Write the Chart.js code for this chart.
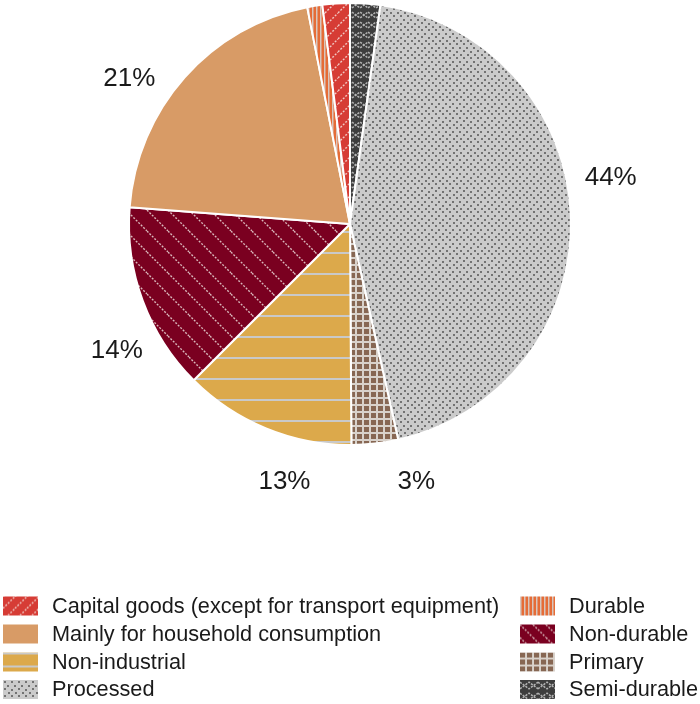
<!DOCTYPE html>
<html>
<head>
<meta charset="utf-8">
<style>
  html, body { margin: 0; padding: 0; background: #ffffff; }
  #wrap { position: relative; width: 700px; height: 704px; }
</style>
<script src="https://cdn.jsdelivr.net/npm/chart.js@4.4.1/dist/chart.umd.min.js"></script>
</head>
<body>
<div id="wrap"><canvas id="chart" width="700" height="704"></canvas></div>
<script>
// Categories in the order the slices run clockwise from twelve o'clock
const categories = [
  'Semi-durable',
  'Processed',
  'Primary',
  'Non-industrial',
  'Non-durable',
  'Mainly for household consumption',
  'Durable',
  'Capital goods (except for transport equipment)'
];
// Share of each category, in percent
const shares = [2.2, 44.3, 3.4, 12.6, 13.7, 20.7, 1.1, 2.0];
// Legend order (two columns, filled top to bottom)
const legendColumns = [
  ['Capital goods (except for transport equipment)', 'Mainly for household consumption', 'Non-industrial', 'Processed'],
  ['Durable', 'Non-durable', 'Primary', 'Semi-durable']
];

// Fill pattern for each category, drawn on a small tile at a given scale
function makeTile(name, s) {
  const c = document.createElement('canvas');
  let ctx;
  const size = (w, h) => { c.width = Math.max(2, Math.round(w)); c.height = Math.max(2, Math.round(h)); ctx = c.getContext('2d'); return [c.width, c.height]; };
  if (name === 'Capital goods (except for transport equipment)') {
    const [T] = size(13 * s, 13 * s);
    ctx.fillStyle = '#d63c35'; ctx.fillRect(0, 0, T, T);
    ctx.strokeStyle = 'rgba(245,225,220,0.85)'; ctx.lineWidth = 1.4; ctx.setLineDash([2, 1.5]);
    for (let k = -1; k <= 1; k++) { ctx.beginPath(); ctx.moveTo(k * T, T); ctx.lineTo(k * T + T, 0); ctx.stroke(); }
  } else if (name === 'Non-durable') {
    const [T] = size(21 * s, 21 * s);
    ctx.fillStyle = '#7a0020'; ctx.fillRect(0, 0, T, T);
    ctx.strokeStyle = 'rgba(235,215,215,0.85)'; ctx.lineWidth = 1.4; ctx.setLineDash([2, 1.5]);
    for (let k = -1; k <= 1; k++) { ctx.beginPath(); ctx.moveTo(k * T, 0); ctx.lineTo(k * T + T, T); ctx.stroke(); }
  } else if (name === 'Durable') {
    const [W, H] = size(4, 4);
    ctx.fillStyle = '#e56c37'; ctx.fillRect(0, 0, W, H);
    ctx.fillStyle = '#d8c6bd'; ctx.fillRect(0, 0, 1.5, H);
  } else if (name === 'Mainly for household consumption') {
    const [W, H] = size(4, 4);
    ctx.fillStyle = '#d89b66'; ctx.fillRect(0, 0, W, H);
  } else if (name === 'Non-industrial') {
    const [W, H] = size(4, 21 * s);
    ctx.fillStyle = '#dca94b'; ctx.fillRect(0, 0, W, H);
    ctx.fillStyle = '#c9c9c9'; ctx.fillRect(0, 0, W, 2);
  } else if (name === 'Primary') {
    const [T] = size(7 * s, 7 * s);
    ctx.fillStyle = '#d9d2cb'; ctx.fillRect(0, 0, T, T);
    ctx.fillStyle = '#876753'; ctx.fillRect(0, 0, T - 2, T - 2);
  } else if (name === 'Processed') {
    const [T] = size(14, 14);
    ctx.fillStyle = '#cbcbcb'; ctx.fillRect(0, 0, T, T);
    ctx.fillStyle = '#737373';
    [[1, 1], [8, 1], [4, 5], [11, 5], [1, 8], [8, 9], [5, 12], [12, 12]].forEach(([x, y]) => ctx.fillRect(x, y, 2, 2));
  } else {
    const [W, H] = size(16 * s, 10 * s);
    ctx.fillStyle = '#3d3d3d'; ctx.fillRect(0, 0, W, H);
    ctx.strokeStyle = 'rgba(185,185,185,0.95)'; ctx.lineWidth = 1.5; ctx.setLineDash([2.2, 1.2]);
    ctx.beginPath(); ctx.moveTo(0, H * 0.2); ctx.lineTo(W / 2, H * 0.8); ctx.lineTo(W, H * 0.2); ctx.stroke();
    ctx.beginPath(); ctx.moveTo(0, H * 0.8); ctx.lineTo(W / 2, H * 0.2); ctx.lineTo(W, H * 0.8); ctx.stroke();
  }
  return c;
}

const canvas = document.getElementById('chart');
const ctx0 = canvas.getContext('2d');
const sliceFills = categories.map(n => ctx0.createPattern(makeTile(n, 1), 'repeat'));
// Legend swatches use the same fills, some drawn a little finer
const legendScale = { 'Non-durable': 0.6, 'Non-industrial': 0.6, 'Capital goods (except for transport equipment)': 0.95, 'Semi-durable': 1.1 };
const legendFills = {};
categories.forEach(n => { legendFills[n] = ctx0.createPattern(makeTile(n, legendScale[n] || 1), 'repeat'); });

// Percentage labels placed just outside the larger slices
const pctLabels = {
  id: 'pctLabels',
  afterDatasetsDraw(chart) {
    const ctx = chart.ctx;
    const meta = chart.getDatasetMeta(0);
    const total = shares.reduce((a, b) => a + b, 0);
    ctx.save();
    ctx.font = '26px "Liberation Sans", Arial, sans-serif';
    ctx.fillStyle = '#1a1a1a';
    ctx.textAlign = 'center';
    ctx.textBaseline = 'middle';
    meta.data.forEach((arc, i) => {
      const pct = shares[i] / total * 100;
      if (pct < 3) return;
      const mid = (arc.startAngle + arc.endAngle) / 2 - 8 * Math.PI / 180;
      const r = 265;
      ctx.fillText(Math.round(pct) + '%', arc.x + r * Math.cos(mid), arc.y + r * Math.sin(mid) + 1);
    });
    ctx.restore();
  }
};

// Two-column legend under the pie
const patternLegend = {
  id: 'patternLegend',
  afterDraw(chart) {
    const ctx = chart.ctx;
    const colX = [3, 520];
    const rowY = [606, 634, 662, 689.5];
    ctx.save();
    ctx.font = '21.7px "Liberation Sans", Arial, sans-serif';
    ctx.textBaseline = 'middle';
    ctx.textAlign = 'left';
    legendColumns.forEach((col, ci) => {
      col.forEach((name, ri) => {
        const x = colX[ci], y = rowY[ri];
        ctx.save();
        ctx.translate(x, y - 9.5);
        ctx.fillStyle = legendFills[name];
        ctx.fillRect(0, 0, 35, 19);
        ctx.restore();
        ctx.fillStyle = '#1a1a1a';
        ctx.fillText(name, x + 49, y + 1);
      });
    });
    ctx.restore();
  }
};

new Chart(canvas, {
  type: 'pie',
  data: {
    labels: categories,
    datasets: [{
      data: shares,
      backgroundColor: sliceFills,
      borderColor: '#ffffff',
      borderWidth: 2,
      radius: 221
    }]
  },
  options: {
    responsive: false,
    animation: false,
    rotation: 0,
    layout: { padding: { top: 0, bottom: 256, left: 0, right: 0 } },
    plugins: { legend: { display: false }, tooltip: { enabled: false } }
  },
  plugins: [pctLabels, patternLegend]
});
</script>
</body>
</html>
